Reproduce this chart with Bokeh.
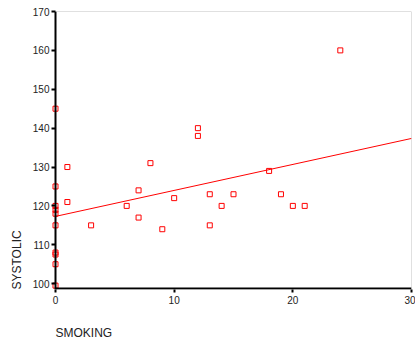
import math
from bokeh.plotting import figure
from bokeh.models import Range1d, FixedTicker, Span, Title, BoxAnnotation, ColumnDataSource
from bokeh.embed import file_html
from bokeh.resources import INLINE

# data
smoking = [0, 0, 0, 0, 0, 0, 0, 0, 0, 0, 1, 1, 3, 6, 7, 7, 8, 9, 10, 12,
           12, 13, 13, 14, 15, 18, 19, 20, 21, 24]
systolic = [145, 125, 120, 119, 118, 115, 108, 107.5, 105, 99.5, 130, 121, 115,
            120, 124, 117, 131, 114, 122, 140, 138, 123, 115, 120, 123, 129,
            123, 120, 120, 160]
fit_x = [0, 30]
fit_y = [117.3, 137.35]
x_ticks = [0, 10, 20, 30]
y_ticks = [100, 110, 120, 130, 140, 150, 160, 170]
x_title = "SMOKING"
y_title = "SYSTOLIC"

W, H = 415, 341
BL, BR, BT, BB = 51, 4, 11, 52
GAP = 4  # px between frame edge and the x=0 axis line
fw = W - BL - BR
fh = H - BT - BB
x1 = 30
x0 = -GAP * x1 / (fw - GAP)
y0, y1 = 98.5, 170
ypp = (y1 - y0) / fh

p = figure(width=W, height=H, output_backend="svg", toolbar_location=None,
           x_range=Range1d(x0, x1), y_range=Range1d(y0, y1),
           min_border_left=BL, min_border_right=BR, min_border_top=BT,
           min_border_bottom=BB, background_fill_color="white",
           border_fill_color="white")
p.xgrid.visible = False
p.ygrid.visible = False
p.outline_line_color = None

for ax in (p.xaxis[0], p.yaxis[0]):
    ax.major_tick_line_color = "black"
    ax.major_tick_line_width = 2
    ax.minor_tick_line_color = None
    ax.major_label_text_font = "Liberation Sans"
    ax.major_label_text_font_size = "10px"
    ax.major_label_text_color = "#222222"
p.xaxis.axis_line_color = None
p.xaxis.major_tick_out = 3
p.xaxis.major_tick_in = 0
p.xaxis.major_label_standoff = 3
p.xaxis.axis_label = " "
p.xaxis.axis_label_text_font_size = "10px"
p.xaxis.axis_label_standoff = 3
p.yaxis.axis_line_color = None
p.yaxis.major_tick_out = 0
p.yaxis.major_tick_in = 4
p.yaxis.major_label_standoff = 2
p.xaxis.ticker = FixedTicker(ticks=x_ticks)
p.yaxis.ticker = FixedTicker(ticks=y_ticks)

# plot box (top / right edges) starting at the x=0 axis
p.add_layout(BoxAnnotation(left=0, right=x1, bottom=y0, top=y1, fill_alpha=0,
                           line_color="#333333", line_width=1))
# axis lines: left at x=0, bottom along the frame edge from x=0
p.add_layout(Span(location=0, dimension="height", line_color="black", line_width=2))
p.add_layout(BoxAnnotation(left=0, right=x1, bottom=y0, top=y0 + 2 * ypp,
                           fill_color="black", fill_alpha=1, line_color=None))

src = ColumnDataSource(dict(x=smoking, y=systolic))
p.line(fit_x, fit_y, line_color="red", line_width=1)
p.scatter("x", "y", source=src, marker="square", size=5, fill_color=None,
          line_color="red", line_width=1)

p.add_layout(Title(text=x_title, align="left", offset=GAP, standoff=0,
                   text_font="Liberation Sans", text_font_size="12px",
                   text_font_style="normal", text_color="#222222"), "below")
p.add_layout(Title(text=y_title, align="left", standoff=12,
                   text_font="Liberation Sans", text_font_size="12px",
                   text_font_style="normal", text_color="#222222"), "left")

open("out.html", "w").write(file_html(p, INLINE))
